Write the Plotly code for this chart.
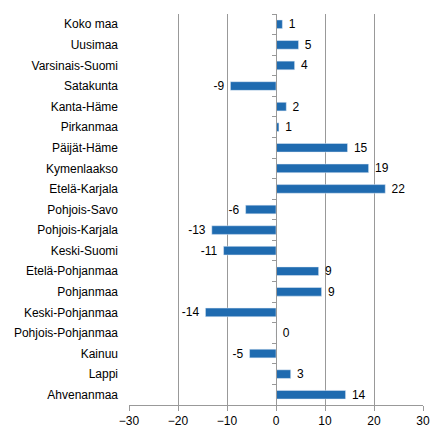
import plotly.graph_objects as go

# Regions, top to bottom as shown
regions = ["Koko maa", "Uusimaa", "Varsinais-Suomi", "Satakunta", "Kanta-Häme",
           "Pirkanmaa", "Päijät-Häme", "Kymenlaakso", "Etelä-Karjala",
           "Pohjois-Savo", "Pohjois-Karjala", "Keski-Suomi", "Etelä-Pohjanmaa",
           "Pohjanmaa", "Keski-Pohjanmaa", "Pohjois-Pohjanmaa", "Kainuu",
           "Lappi", "Ahvenanmaa"]
change = [1.3, 4.6, 3.8, -9.3, 2.1, 0.6, 14.6, 18.9, 22.3, -6.2, -13.1, -10.7,
          8.7, 9.3, -14.4, 0.1, -5.4, 3.0, 14.2]
x_ticks = [-30, -20, -10, 0, 10, 20, 30]

fig = go.Figure()
fig.add_trace(go.Bar(
    y=regions, x=change, orientation="h",
    marker_color="#1f6bb0",
    text=[" %.0f " % v for v in change], textposition="outside", constraintext="none",
    textfont=dict(size=12, color="black"),
    cliponaxis=False,
))
# invisible trace to carry the axis at zero with tick marks between categories
fig.add_trace(go.Scatter(y=regions, x=[0] * len(regions), yaxis="y2",
                         mode="markers", marker_opacity=0, hoverinfo="skip"))

y_range = [len(regions) - 0.5, -0.5]

fig.update_layout(
    width=436, height=436,
    margin=dict(l=121, r=21, t=6, b=39),
    plot_bgcolor="white", paper_bgcolor="white",
    font=dict(family="Liberation Sans, Arial, sans-serif", size=12, color="black"),
    bargap=0.58, showlegend=False,
    yaxis=dict(range=y_range, autorange=False, showgrid=False, ticks="",
               ticklabelstandoff=10),
    yaxis2=dict(overlaying="y", anchor="free", position=0.5, range=y_range,
                autorange=False, showticklabels=False, ticks="outside",
                tickson="boundaries", ticklen=4, tickcolor="#999999",
                showline=True, linecolor="#999999", showgrid=False),
)
fig.update_xaxes(range=[-30, 30], tickvals=x_ticks, showgrid=True, gridcolor="#999999",
                 gridwidth=1, zeroline=True, zerolinecolor="#999999", zerolinewidth=1,
                 showline=True, linecolor="#999999", ticks="outside", tickcolor="#999999",
                 ticklen=5)

fig.write_html("out.html")
